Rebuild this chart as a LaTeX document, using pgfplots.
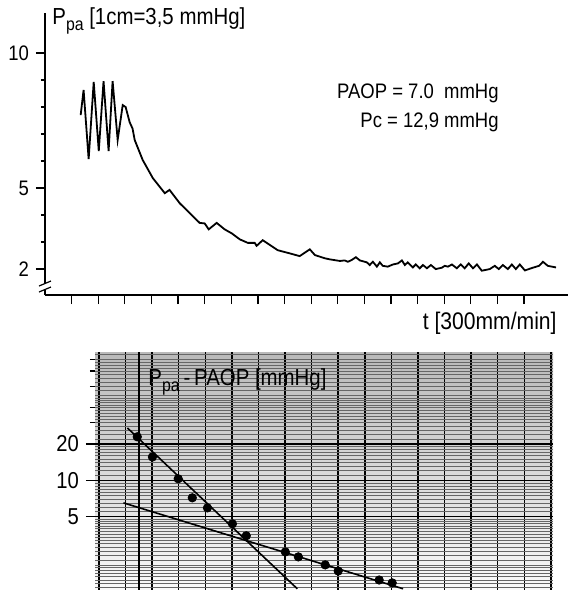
\documentclass[border=0pt]{standalone}
\usepackage{fontspec}
\setmainfont{Liberation Sans}[FakeStretch=0.88]
\usepackage{pgfplots}
\pgfplotsset{compat=1.18}

\newcommand{\pa}{\raisebox{-0.45ex}{\fontsize{9}{9}\selectfont pa}}

\begin{document}
\begin{tikzpicture}
\path[use as bounding box] (0pt,0pt) rectangle (284pt,-295pt);

% top panel: pressure trace after occlusion
\begin{axis}[
  at={(22.5pt,-147.5pt)}, anchor=south west,
  scale only axis, width=261.5pt, height=141pt,
  xmin=-1, xmax=18.65, ymin=1.04, ymax=11.48,
  axis x line=bottom, axis y line=left,
  axis line style={-, line width=0.7pt},
  xtick={0,...,17}, xticklabels={},
  ytick={2,5,10}, yticklabels={2,5,10},
  minor ytick={3,4,6,7,8,9},
  tick align=outside, major tick length=4.5pt, minor tick length=2pt,
  tick style={line width=0.6pt, black},
  yticklabel style={font=\fontsize{10.5}{12}\selectfont},
  clip=false,
]
\addplot[black, line width=0.9pt] coordinates {
  (0.34,7.70) (0.45,8.63) (0.64,6.07) (0.83,8.93) (1.02,6.37) (1.20,8.96)
  (1.39,6.37) (1.54,8.96) (1.73,6.78) (1.92,8.07) (2.03,8.00) (2.18,7.44)
  (2.29,7.20) (2.37,6.78) (2.67,6.04) (3.05,5.37) (3.50,4.81) (3.68,4.93)
  (4.06,4.44) (4.51,4.00) (4.81,3.71) (5.00,3.69) (5.15,3.47) (5.45,3.71)
  (5.75,3.47) (6.02,3.32) (6.32,3.10) (6.62,2.97) (6.88,2.97) (6.95,2.86)
  (7.18,3.07) (7.74,2.70) (8.20,2.58) (8.57,2.48) (8.95,2.73) (9.14,2.52)
  (9.51,2.40) (9.70,2.36) (10.08,2.30) (10.26,2.32) (10.38,2.27) (10.53,2.34)
  (10.68,2.44) (10.83,2.32) (11.09,2.25) (11.20,2.15) (11.32,2.27) (11.47,2.09)
  (11.58,2.25) (11.69,2.12) (11.88,2.09) (12.07,2.17) (12.26,2.21) (12.41,2.32)
  (12.52,2.15) (12.63,2.25) (12.82,2.06) (12.93,2.17) (13.08,2.03) (13.20,2.15)
  (13.35,2.03) (13.50,2.15) (13.68,2.00) (13.91,2.05) (14.02,2.12) (14.14,2.09)
  (14.29,2.17) (14.47,2.03) (14.62,2.17) (14.77,2.03) (14.92,2.21) (15.08,2.03)
  (15.23,2.17) (15.41,1.94) (15.71,2.00) (15.90,2.12) (16.05,2.00) (16.20,2.15)
  (16.39,2.00) (16.54,2.17) (16.69,2.00) (16.84,2.17) (17.03,1.95) (17.33,2.05)
  (17.56,2.12) (17.71,2.27) (17.89,2.12) (18.20,2.06)
};
\end{axis}

% axis break on the pressure axis
\fill[white] (19pt,-141.5pt) rectangle (26pt,-145pt);
\draw[line width=0.6pt] (19.5pt,-143pt) -- (25.5pt,-140.5pt);
\draw[line width=0.6pt] (19.5pt,-146pt) -- (25.5pt,-143.5pt);

% bottom panel: semi-log plot on graph paper
\begin{axis}[
  at={(47.5pt,-295pt)}, anchor=south west,
  scale only axis, width=229pt, height=119pt,
  xmin=0.85, xmax=18.08, ymode=log, ymin=1.24, ymax=115,
  axis line style={draw=none},
  axis background/.style={shade, top color=gray!55, bottom color=gray!4},
  xtick={1,...,18}, xticklabels={}, xtick style={draw=none},
  ytick={5,10,20}, yticklabels={5,10,20},
  minor ytick={1.3,1.4,1.5,1.6,1.7,1.8,1.9,2,2.2,2.4,2.6,2.8,3,3.2,3.4,3.6,3.8,4,4.2,4.4,4.6,4.8,
    5.5,6,6.5,7,7.5,8,8.5,9,9.5,11,12,13,14,15,16,17,18,19,22,24,26,28,30,32,34,36,38,40,
    42,44,46,48,50,55,60,65,70,75,80,85,90,95,100,110},
  extra y ticks={30,40,60,80,100}, extra y tick labels={},
  extra y tick style={grid=none, major tick length=2.5pt},
  extra x ticks={2.52}, extra x tick labels={},
  extra x tick style={grid=major, major grid style={black, line width=1.1pt}},
  ytick pos=left, tick align=outside,
  major tick length=4.5pt, minor tick length=0pt,
  tick style={line width=0.6pt, black},
  xmajorgrids, ymajorgrids, yminorgrids,
  major grid style={black, line width=0.75pt},
  minor grid style={black!60, line width=0.3pt},
  yticklabel style={font=\fontsize{11.5}{12}\selectfont},
  clip=false,
]
\addplot[black, line width=0.8pt] coordinates {(2.07,27.1) (8.46,1.27)};
\addplot[black, line width=0.8pt] coordinates {(1.92,6.51) (12.44,1.27)};
\addplot[only marks, mark=*, mark size=2.1pt, black] coordinates {
  (2.44,22.9) (3.01,15.6) (3.98,10.3) (4.51,7.17) (5.08,5.92) (6.02,4.37)
  (6.54,3.48) (8.01,2.56) (8.50,2.33) (9.51,2.00) (10.00,1.78) (11.54,1.50)
  (12.03,1.42)
};
\end{axis}

% labels
\node[anchor=west, inner sep=0pt, font=\fontsize{11.6}{13}\selectfont] at (26pt,-10.5pt)
  {P\pa\ [1cm=3,5 mmHg]};
\node[anchor=east, inner sep=0pt, font=\fontsize{10.5}{12}\selectfont] at (249.5pt,-46.5pt)
  {PAOP = 7.0 \ mmHg};
\node[anchor=east, inner sep=0pt, font=\fontsize{10.5}{12}\selectfont] at (249.5pt,-61pt)
  {Pc = 12,9 mmHg};
\node[anchor=east, inner sep=0pt, font=\fontsize{12}{13}\selectfont] at (278.5pt,-161.5pt)
  {t [300mm/min]};
\node[anchor=west, inner sep=0pt, font=\fontsize{11.6}{13}\selectfont] at (74pt,-191pt)
  {P\pa\,-\,PAOP [mmHg]};
\end{tikzpicture}
\end{document}
